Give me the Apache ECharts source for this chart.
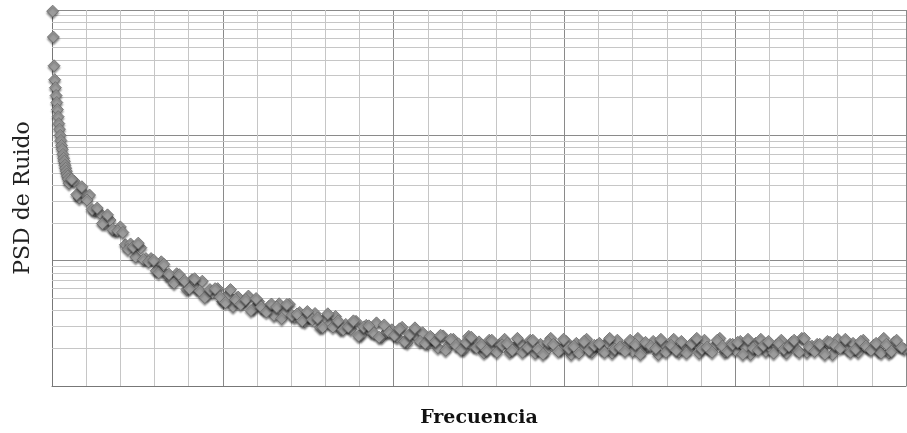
<!DOCTYPE html>
<html>
<head>
<meta charset="utf-8">
<script src="https://cdn.jsdelivr.net/npm/echarts@6/dist/echarts.min.js"></script>
<style>
  html, body { margin: 0; background: #fff; }
  #main { width: 907px; height: 433px; }
</style>
</head>
<body>
<div id="main"></div>
<script>
// frecuencia (unidades arbitrarias) - tramo inicial muy denso
var headFreq = [0.4, 0.8, 1.2, 1.6, 2.0, 2.4, 2.8, 3.2, 3.6, 4.0, 4.4, 4.8,
    5.2, 5.6, 6.0, 6.4, 6.8, 7.2, 7.6, 8.0, 8.4, 8.8, 9.2, 9.6];
var headPsd = [979, 609, 359, 278, 240, 208, 183, 161, 141, 124, 112, 100,
    91.1, 83.1, 77.3, 70.5, 65.6, 62.1, 57.7, 54.6, 51.7, 48.9, 47.2, 44.7];

var bodyFreq = [
    10, 13, 16, 19, 22, 25, 28, 31, 34, 37,
    40, 43, 46, 49, 52, 55, 58, 61, 64, 67,
    70, 73, 76, 79, 82, 85, 88, 91, 94, 97,
    100, 103, 106, 109, 112, 115, 118, 121, 124, 127,
    130, 133, 136, 139, 142, 145, 148, 151, 154, 157,
    160, 163, 166, 169, 172, 175, 178, 181, 184, 187,
    190, 193, 196, 199, 202, 205, 208, 211, 214, 217,
    220, 223, 226, 229, 232, 235, 238, 241, 244, 247,
    250, 253, 256, 259, 262, 265, 268, 271, 274, 277,
    280, 283, 286, 289, 292, 295, 298, 301, 304, 307,
    310, 313, 316, 319, 322, 325, 328, 331, 334, 337,
    340, 343, 346, 349, 352, 355, 358, 361, 364, 367,
    370, 373, 376, 379, 382, 385, 388, 391, 394, 397,
    400, 403, 406, 409, 412, 415, 418, 421, 424, 427,
    430, 433, 436, 439, 442, 445, 448, 451, 454, 457,
    460, 463, 466, 469, 472, 475, 478, 481, 484, 487,
    490, 493, 496, 499
];
var bodyPsd = [
    41.5, 43.1, 31.6, 34.0, 33.4, 24.9, 24.0, 19.7, 21.1, 17.3,
    18.6, 13.4, 13.6, 10.7, 12.7, 10.4, 10.4, 8.31, 9.80, 7.73,
    7.05, 7.87, 7.12, 5.88, 7.05, 5.93, 6.86, 5.36, 5.56, 5.98,
    4.72, 5.31, 4.31, 5.12, 4.63, 5.22, 4.12, 4.72, 4.09, 4.31,
    3.66, 4.53, 3.83, 4.50, 3.54, 3.86, 3.26, 3.55, 3.79, 2.93,
    3.48, 3.16, 3.59, 2.83, 3.10, 2.83, 3.28, 2.54, 3.05, 2.68,
    3.19, 2.45, 2.68, 2.81, 2.45, 2.94, 2.21, 2.63, 2.45, 2.66,
    2.17, 2.38, 2.02, 2.51, 2.09, 2.36, 2.17, 1.94, 2.49, 2.07,
    2.25, 1.84, 2.32, 1.97, 2.15, 2.36, 1.86, 2.04, 2.23, 1.97,
    2.32, 1.83, 2.15, 1.89, 2.40, 2.08, 1.93, 2.27, 1.79, 2.19,
    2.00, 2.36, 1.86, 2.11, 1.97, 2.23, 1.83, 2.32, 2.04, 2.15,
    1.89, 2.40, 1.93, 2.08, 2.27, 1.79, 2.19, 2.00, 2.36, 1.86,
    2.11, 1.97, 2.23, 1.83, 2.32, 1.97, 2.08, 2.40, 1.86, 2.15,
    1.93, 2.27, 2.04, 1.79, 2.19, 2.36, 1.89, 2.00, 2.11, 2.32,
    1.83, 2.23, 1.97, 2.40, 1.86, 2.08, 2.15, 1.93, 2.27, 1.79,
    2.36, 2.04, 1.97, 2.19, 1.86, 2.32, 2.00, 2.11, 1.89, 2.40,
    1.83, 2.23, 2.08, 1.97
];

// puntos intermedios (segunda pasada de la medida)
var midFreq = [
    11.5, 14.5, 17.5, 20.5, 23.5, 26.5, 29.5, 32.5, 35.5, 38.5,
    41.5, 44.5, 47.5, 50.5, 53.5, 56.5, 59.5, 62.5, 65.5, 68.5,
    71.5, 74.5, 77.5, 80.5, 83.5, 86.5, 89.5, 92.5, 95.5, 98.5,
    101.5, 104.5, 107.5, 110.5, 113.5, 116.5, 119.5, 122.5, 125.5, 128.5,
    131.5, 134.5, 137.5, 140.5, 143.5, 146.5, 149.5, 152.5, 155.5, 158.5,
    161.5, 164.5, 167.5, 170.5, 173.5, 176.5, 179.5, 182.5, 185.5, 188.5,
    191.5, 194.5, 197.5, 200.5, 203.5, 206.5, 209.5, 212.5, 215.5, 218.5,
    221.5, 224.5, 227.5, 230.5, 233.5, 236.5, 239.5, 242.5, 245.5, 248.5,
    251.5, 254.5, 257.5, 260.5, 263.5, 266.5, 269.5, 272.5, 275.5, 278.5,
    281.5, 284.5, 287.5, 290.5, 293.5, 296.5, 299.5, 302.5, 305.5, 308.5,
    311.5, 314.5, 317.5, 320.5, 323.5, 326.5, 329.5, 332.5, 335.5, 338.5,
    341.5, 344.5, 347.5, 350.5, 353.5, 356.5, 359.5, 362.5, 365.5, 368.5,
    371.5, 374.5, 377.5, 380.5, 383.5, 386.5, 389.5, 392.5, 395.5, 398.5,
    401.5, 404.5, 407.5, 410.5, 413.5, 416.5, 419.5, 422.5, 425.5, 428.5,
    431.5, 434.5, 437.5, 440.5, 443.5, 446.5, 449.5, 452.5, 455.5, 458.5,
    461.5, 464.5, 467.5, 470.5, 473.5, 476.5, 479.5, 482.5, 485.5, 488.5,
    491.5, 494.5, 497.5
];
var midPsd = [
    44.7, 33.7, 38.9, 30.5, 25.6, 26.3, 19.8, 23.2, 17.8, 17.3,
    16.8, 12.3, 12.9, 13.8, 10.2, 9.80, 10.1, 8.01, 9.36, 7.80,
    6.62, 7.73, 6.93, 5.98, 7.18, 5.72, 5.08, 5.88, 5.98, 5.12,
    4.63, 5.88, 4.90, 4.47, 4.90, 4.00, 4.99, 4.27, 3.90, 4.51,
    4.27, 3.46, 4.47, 3.66, 3.76, 3.31, 3.93, 3.38, 3.49, 2.94,
    3.77, 2.96, 3.31, 2.81, 2.96, 3.31, 2.51, 2.96, 3.02, 2.63,
    2.45, 3.07, 2.68, 2.54, 2.86, 2.27, 2.58, 2.91, 2.27, 2.19,
    2.49, 2.27, 2.54, 1.93, 2.36, 2.11, 1.95, 2.23, 2.45, 2.02,
    2.13, 1.93, 2.32, 1.86, 2.13, 2.19, 1.93, 2.40, 1.86, 2.04,
    2.32, 1.97, 1.79, 2.23, 2.15, 1.89, 2.36, 2.00, 2.08, 1.83,
    2.27, 1.93, 2.11, 2.19, 1.86, 2.40, 1.97, 2.04, 1.89, 2.32,
    2.15, 1.79, 2.23, 2.08, 2.00, 2.36, 1.86, 2.11, 1.93, 2.27,
    1.83, 2.19, 2.40, 1.97, 2.04, 1.86, 2.32, 2.08, 1.89, 2.15,
    2.23, 1.79, 2.36, 2.00, 1.93, 2.11, 2.27, 1.83, 2.19, 1.97,
    2.08, 2.32, 1.86, 2.40, 2.04, 1.89, 2.15, 1.79, 2.23, 2.11,
    2.00, 2.36, 1.86, 1.97, 2.27, 2.08, 1.93, 2.19, 1.83, 2.15,
    1.89, 2.32, 2.04
];

// lineas secundarias de la escala logaritmica
var minorLevels = [2, 3, 4, 5, 6, 7, 8, 9,
    20, 30, 40, 50, 60, 70, 80, 90,
    200, 300, 400, 500, 600, 700, 800, 900];

function DrawPsd() {
    var chart = echarts.init(document.getElementById('main'));

    var freqs = headFreq.concat(bodyFreq, midFreq);
    var psd = headPsd.concat(bodyPsd, midPsd);
    var points = [];
    for (var i = 0; i < freqs.length; i++) {
        points.push([freqs[i], psd[i]]);
    }

    var minorLines = minorLevels.map(function (v) {
        return { yAxis: v };
    });

    var option = {
        animation: false,
        backgroundColor: '#fff',
        grid: { left: 52, right: 1, top: 10, bottom: 45 },
        xAxis: {
            type: 'value',
            min: 0,
            max: 500,
            interval: 100,
            name: 'Frecuencia',
            nameLocation: 'middle',
            nameGap: 23,
            nameTextStyle: {
                fontFamily: 'DejaVu Serif',
                fontWeight: 'bold',
                fontSize: 19,
                color: '#111'
            },
            axisLine: { show: true, lineStyle: { color: '#777' } },
            axisTick: { show: false },
            axisLabel: { show: false },
            splitLine: { show: true, lineStyle: { color: '#8a8a8a' } },
            minorTick: { show: false, splitNumber: 5 },
            minorSplitLine: { show: true, lineStyle: { color: '#c6c6c6' } }
        },
        yAxis: {
            type: 'log',
            logBase: 10,
            min: 1,
            max: 1000,
            name: 'PSD de Ruido',
            nameLocation: 'middle',
            nameGap: 18,
            nameTextStyle: {
                fontFamily: 'DejaVu Serif',
                fontSize: 22,
                color: '#222'
            },
            axisLine: { show: true, lineStyle: { color: '#777' } },
            axisTick: { show: false },
            axisLabel: { show: false },
            splitLine: { show: true, lineStyle: { color: '#8a8a8a' } }
        },
        series: [
            {
                // solo para la cuadricula menor
                type: 'scatter',
                z: 1,
                data: [],
                markLine: {
                    z: 1,
                    silent: true,
                    symbol: ['none', 'none'],
                    label: { show: false },
                    lineStyle: { color: '#c6c6c6', type: 'solid', width: 1 },
                    data: minorLines
                }
            },
            {
                type: 'scatter',
                z: 10,
                symbol: 'diamond',
                symbolSize: 12,
                itemStyle: {
                    color: '#9c9c9c',
                    borderColor: '#6a6a6a',
                    borderWidth: 0.8,
                    opacity: 1,
                    shadowBlur: 2,
                    shadowOffsetY: 2,
                    shadowColor: 'rgba(0,0,0,0.45)'
                },
                data: points
            }
        ]
    };

    chart.setOption(option);
}

DrawPsd();
</script>
</body>
</html>
